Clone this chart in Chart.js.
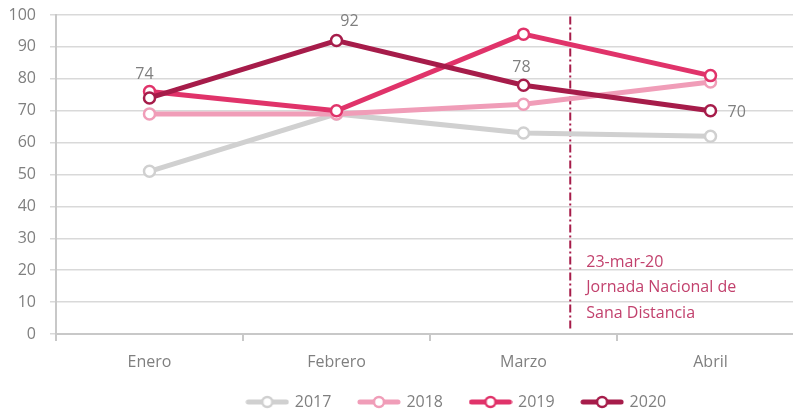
<!DOCTYPE html>
<html>
<head>
<meta charset="utf-8">
<script src="https://cdn.jsdelivr.net/npm/chart.js@4"></script>
<style>
  html, body { margin: 0; padding: 0; background: #fff; overflow: hidden; }
  #wrap { width: 793px; height: 411px; overflow: hidden; position: relative; }
  #box { position: absolute; left: 0; top: 0; width: 812px; height: 436px; }
</style>
</head>
<body>
<div id="wrap"><div id="box"><canvas id="chart"></canvas></div></div>
<script>
// datos
const meses = ['Enero', 'Febrero', 'Marzo', 'Abril'];
const anios = ['2017', '2018', '2019', '2020'];
const v2017 = [51, 69, 63, 62];
const v2018 = [69, 69, 72, 79];
const v2019 = [76, 70, 94, 81];
const v2020 = [74, 92, 78, 70];
const etiquetas2020 = ['74', '92', '78', '70'];
const yTicks = [0, 10, 20, 30, 40, 50, 60, 70, 80, 90, 100];
const fechaJornada = 2.25; // 23-mar-20, entre Marzo y Abril
const notaJornada = ['23-mar-20', 'Jornada Nacional de', 'Sana Distancia'];

const colores = ['#d0d0d0', '#f09db8', '#e0336a', '#a61c4a'];
const grisTexto = '#7f7f7f';

Chart.defaults.font.family = "'Open Sans', 'Noto Sans', sans-serif";
Chart.defaults.font.size = 16;
Chart.defaults.color = grisTexto;

function legendIcon(color) {
  const c = document.createElement('canvas');
  c.width = 44; c.height = 14;
  const g = c.getContext('2d');
  g.strokeStyle = color;
  g.lineWidth = 5;
  g.lineCap = 'round';
  g.beginPath(); g.moveTo(3, 7); g.lineTo(41, 7); g.stroke();
  g.beginPath(); g.arc(22, 7, 5, 0, Math.PI * 2);
  g.fillStyle = '#fff'; g.fill();
  g.lineWidth = 2.5; g.stroke();
  return c;
}

const series = [v2017, v2018, v2019, v2020];
const datasets = series.map((vals, i) => ({
  label: anios[i],
  data: vals,
  borderColor: colores[i],
  backgroundColor: '#fff',
  borderWidth: 5,
  pointRadius: 5.5,
  pointBorderWidth: 2.5,
  pointBackgroundColor: '#fff',
  pointBorderColor: colores[i],
  pointStyle: 'circle',
  tension: 0,
  order: 4 - i
}));
datasets.forEach((d, i) => { d.legendIcon = legendIcon(colores[i]); });

const etiquetasPlugin = {
  id: 'etiquetas',
  afterDatasetsDraw(chart) {
    const meta = chart.getDatasetMeta(3);
    const ctx = chart.ctx;
    const dx = [-5, 13, -2, 17];
    const dy = [-16, -11, -10, 0];
    ctx.save();
    ctx.font = "16px 'Open Sans', sans-serif";
    ctx.fillStyle = grisTexto;
    meta.data.forEach((pt, i) => {
      if (i === 3) {
        ctx.textAlign = 'left';
        ctx.textBaseline = 'middle';
        ctx.fillText(etiquetas2020[i], pt.x + dx[i], pt.y + 2);
      } else {
        ctx.textAlign = 'center';
        ctx.textBaseline = 'bottom';
        ctx.fillText(etiquetas2020[i], pt.x + dx[i], pt.y + dy[i]);
      }
    });
    ctx.restore();
  }
};

const jornadaPlugin = {
  id: 'jornada',
  beforeDatasetsDraw(chart) {
    const x = chart.scales.x.getPixelForValue(fechaJornada);
    const y = chart.scales.y;
    const ctx = chart.ctx;
    ctx.save();
    ctx.strokeStyle = '#a61c4a';
    ctx.lineWidth = 2;
    ctx.setLineDash([8, 3, 2, 3]);
    ctx.beginPath();
    ctx.moveTo(x, y.getPixelForValue(99.5));
    ctx.lineTo(x, y.getPixelForValue(1));
    ctx.stroke();
    ctx.setLineDash([]);
    ctx.font = "16px 'Open Sans', sans-serif";
    ctx.fillStyle = '#c2416d';
    ctx.textAlign = 'left';
    ctx.textBaseline = 'middle';
    notaJornada.forEach((t, i) => {
      ctx.fillText(t, x + 16, y.getPixelForValue(22.5) + i * 25.5);
    });
    ctx.restore();
  }
};

const legendShift = {
  id: 'legendShift',
  afterLayout(chart) {
    const lg = chart.legend;
    lg.left += 51;
    lg.right += 51;
    lg.top -= 16;
    lg.bottom -= 16;
  }
};

new Chart(document.getElementById('chart'), {
  type: 'line',
  data: { labels: meses, datasets: datasets },
  plugins: [jornadaPlugin, etiquetasPlugin, legendShift],
  options: {
    responsive: true,
    maintainAspectRatio: false,
    animation: false,
    layout: { padding: { top: 15, right: 0, left: 0, bottom: 0 } },
    plugins: {
      tooltip: { enabled: false },
      legend: {
        position: 'bottom',
        labels: {
          usePointStyle: true,
          pointStyleWidth: 39,
          padding: 28,
          color: grisTexto,
          font: { size: 16 },
          sort: (a, b) => a.datasetIndex - b.datasetIndex,
          generateLabels(chart) {
            return chart.data.datasets.map((d, i) => ({
              text: d.label,
              pointStyle: d.legendIcon,
              fillStyle: '#fff',
              strokeStyle: d.borderColor,
              lineWidth: 0,
              fontColor: grisTexto,
              datasetIndex: i,
              hidden: false
            }));
          }
        }
      }
    },
    scales: {
      x: {
        offset: true,
        afterFit(s) { s.height = 48; },
        grid: {
          offset: true,
          drawOnChartArea: false,
          drawTicks: true,
          tickLength: 7,
          color: '#c8c8c8',
          lineWidth: 2
        },
        border: { color: '#c8c8c8', width: 2 },
        ticks: { padding: 12, color: grisTexto, font: { size: 16 } }
      },
      y: {
        min: 0,
        max: 100,
        afterFit(s) { s.width = 56; s.paddingTop = 0; s.paddingBottom = 0; },
        afterBuildTicks(s) { s.ticks = yTicks.map(v => ({ value: v })); },
        grid: {
          color: '#d9d9d9',
          lineWidth: 1.5,
          tickLength: 6
        },
        border: { color: '#c8c8c8', width: 2 },
        ticks: { padding: 14, color: grisTexto, font: { size: 16 } }
      }
    }
  }
});
</script>
</body>
</html>
